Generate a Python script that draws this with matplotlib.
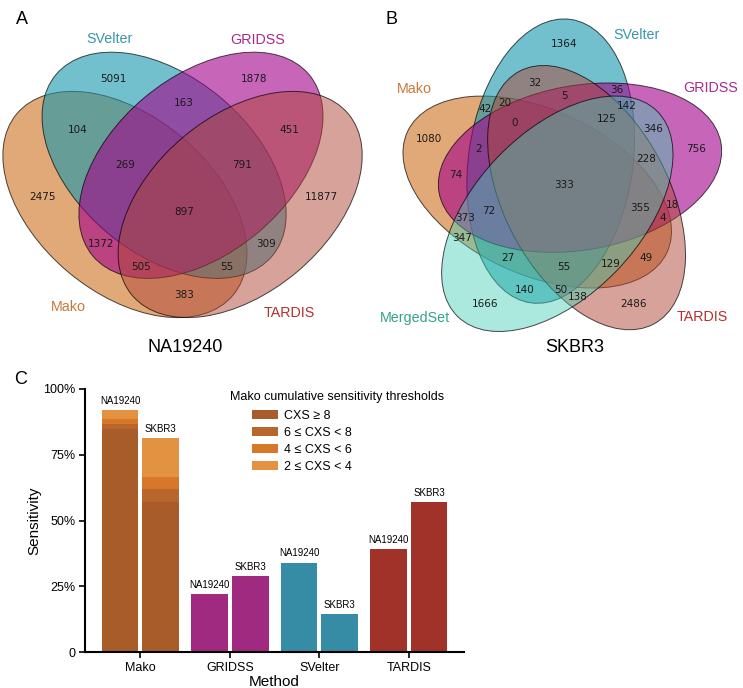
import numpy as np
import matplotlib.pyplot as plt
from matplotlib.patches import Ellipse, Patch

plt.rcParams['font.family'] = ['Liberation Sans', 'DejaVu Sans']

W, H = 743, 688

# ---------------- data ----------------
# panel A: NA19240, sets order Mako, SVelter, GRIDSS, TARDIS
sets_a = ['Mako', 'SVelter', 'GRIDSS', 'TARDIS']
regions_a = ['1000', '0100', '0010', '0001', '1100', '1010', '1001', '0110',
             '0101', '0011', '1110', '1101', '1011', '0111', '1111']
counts_a = [2475, 5091, 1878, 11877, 104, 1372, 383, 163,
            309, 451, 269, 55, 505, 791, 897]

# panel B: SKBR3, sets order Mako, SVelter, GRIDSS, TARDIS, MergedSet
sets_b = ['Mako', 'SVelter', 'GRIDSS', 'TARDIS', 'MergedSet']
regions_b = ['10000', '01000', '00100', '00010', '00001',
             '11000', '10100', '10010', '10001', '01100', '01010', '01001', '00110', '00101', '00011',
             '11100', '11010', '11001', '10110', '10101', '10011', '01110', '01101', '01011', '00111',
             '11110', '11101', '11011', '10111', '01111', '11111']
counts_b = [1080, 1364, 756, 2486, 1666,
            42, 74, 49, 347, 36, 32, 140, 18, 346, 138,
            2, 20, 27, 4, 373, 129, 5, 142, 50, 228,
            0, 72, 55, 355, 125, 333]

# panel C: sensitivity
methods = ['Mako', 'GRIDSS', 'SVelter', 'TARDIS']
samples = ['NA19240', 'SKBR3']
na19240_sens = [0.920, 0.222, 0.341, 0.391]
skbr3_sens = [0.813, 0.288, 0.145, 0.572]
thresholds = ['CXS \u2265 8', '6 \u2264 CXS < 8', '4 \u2264 CXS < 6', '2 \u2264 CXS < 4']
mako_na19240_cum = [0.847, 0.866, 0.885, 0.920]
mako_skbr3_cum = [0.572, 0.619, 0.667, 0.813]

# ---------------- styles / layout ----------------
set_fill = {'Mako': (205, 113, 30, 0.6), 'SVelter': (20, 150, 172, 0.6),
            'GRIDSS': (163, 0, 138, 0.6), 'TARDIS': (175, 70, 55, 0.5),
            'MergedSet': (70, 205, 180, 0.45)}
set_text = {'Mako': '#c9783c', 'SVelter': '#3896ab', 'GRIDSS': '#a82a8c',
            'TARDIS': '#b3302c', 'MergedSet': '#33a28c'}
method_colors = ['#a85c2a', '#a02a80', '#368ca5', '#a0322a']
threshold_colors = ['#a85c2a', '#b9662d', '#d67828', '#e29240']

# ellipse geometry (x, y, w, h, angle) and label spots, pyvenn style
ell4 = [(0.350, 0.400, 0.72, 0.45, 140.0), (0.450, 0.500, 0.72, 0.45, 140.0),
        (0.544, 0.500, 0.72, 0.45, 40.0), (0.644, 0.400, 0.72, 0.45, 40.0)]
pos4 = {'0001': (0.85, 0.42), '0010': (0.68, 0.72), '0011': (0.77, 0.59), '0100': (0.32, 0.72),
        '0101': (0.71, 0.30), '0110': (0.50, 0.66), '0111': (0.65, 0.50), '1000': (0.14, 0.42),
        '1001': (0.50, 0.17), '1010': (0.29, 0.30), '1011': (0.39, 0.24), '1100': (0.23, 0.59),
        '1101': (0.61, 0.24), '1110': (0.35, 0.50), '1111': (0.50, 0.38)}
ell5 = [(0.428, 0.449, 0.87, 0.50, 155.0), (0.469, 0.543, 0.87, 0.50, 82.0),
        (0.558, 0.523, 0.87, 0.50, 10.0), (0.578, 0.432, 0.87, 0.50, 118.0),
        (0.489, 0.383, 0.87, 0.50, 46.0)]
pos5 = {'00001': (0.27, 0.11), '00010': (0.72, 0.11), '00011': (0.55, 0.13), '00100': (0.91, 0.58),
        '00101': (0.78, 0.64), '00110': (0.84, 0.41), '00111': (0.76, 0.55), '01000': (0.51, 0.90),
        '01001': (0.39, 0.15), '01010': (0.42, 0.78), '01011': (0.50, 0.15), '01100': (0.67, 0.76),
        '01101': (0.70, 0.71), '01110': (0.51, 0.74), '01111': (0.64, 0.67), '10000': (0.10, 0.61),
        '10001': (0.20, 0.31), '10010': (0.76, 0.25), '10011': (0.65, 0.23), '10100': (0.18, 0.50),
        '10101': (0.21, 0.37), '10110': (0.81, 0.37), '10111': (0.74, 0.40), '11000': (0.27, 0.70),
        '11001': (0.34, 0.25), '11010': (0.33, 0.72), '11011': (0.51, 0.22), '11100': (0.25, 0.58),
        '11101': (0.28, 0.39), '11110': (0.36, 0.66), '11111': (0.51, 0.47)}
# set name positions in pixels
names_a_px = {'SVelter': (110, 39), 'GRIDSS': (258, 40), 'Mako': (68, 307), 'TARDIS': (289, 313)}
names_b_px = {'SVelter': (637, 35), 'Mako': (414, 89), 'GRIDSS': (711, 88),
              'MergedSet': (415, 318), 'TARDIS': (702, 317)}


def fx(px):
    return px / W


def fy(py):
    return 1 - py / H


def rgba(c):
    return (c[0] / 255, c[1] / 255, c[2] / 255, c[3])


def draw_venn(ax, sets, ells, regions, counts, pos):
    for name, (x, y, w, h, a) in zip(sets, ells):
        ax.add_patch(Ellipse((x, y), w, h, angle=a, facecolor=rgba(set_fill[name]),
                             edgecolor=(0, 0, 0, 0.7), linewidth=0.7))
    for r, c in zip(regions, counts):
        ax.text(pos[r][0], pos[r][1], str(c), ha='center', va='center',
                fontsize=7.5, family='DejaVu Sans', color='#1a1a1a')
    ax.axis('off')


fig = plt.figure(figsize=(W / 100, H / 100), dpi=100)

# panel A
ax_a = fig.add_axes([0, fy(340), 370 / W, 340 / H])
ax_a.set_xlim(0.03135, 0.97523)
ax_a.set_ylim(0.0543, 0.92165)
draw_venn(ax_a, sets_a, ell4, regions_a, counts_a, pos4)

# panel B
ax_b = fig.add_axes([370 / W, fy(340), 373 / W, 340 / H])
ax_b.set_xlim(-0.0803, 1.05344)
ax_b.set_ylim(-0.00068, 1.03275)
draw_venn(ax_b, sets_b, ell5, regions_b, counts_b, pos5)

for names_px in (names_a_px, names_b_px):
    for name, (px, py) in names_px.items():
        fig.text(fx(px), fy(py), name, ha='center', va='center', fontsize=10.3, color=set_text[name])

fig.text(fx(185), fy(347), 'NA19240', ha='center', va='center', fontsize=13)
fig.text(fx(575), fy(347), 'SKBR3', ha='center', va='center', fontsize=13)
fig.text(fx(21.5), fy(20), 'A', ha='center', va='center', fontsize=13)
fig.text(fx(391.5), fy(19), 'B', ha='center', va='center', fontsize=13)
fig.text(fx(21), fy(380), 'C', ha='center', va='center', fontsize=13)

# panel C
ax_c = fig.add_axes([85 / W, fy(652.3), 379.3 / W, 263.3 / H])
x = np.arange(len(methods))
off, bw = 0.227, 0.41
ax_c.bar(x - off, na19240_sens, bw, color=method_colors)
ax_c.bar(x + off, skbr3_sens, bw, color=method_colors)
# Mako cumulative layers, drawn high to low
for i in range(len(thresholds) - 1, -1, -1):
    ax_c.bar(x[0] - off, mako_na19240_cum[i], bw, color=threshold_colors[i])
    ax_c.bar(x[0] + off, mako_skbr3_cum[i], bw, color=threshold_colors[i])

for xi, v in zip(x, na19240_sens):
    ax_c.annotate(samples[0], (xi - off, v), xytext=(0, 3), textcoords='offset points',
                  ha='center', va='bottom', fontsize=7)
for xi, v in zip(x, skbr3_sens):
    ax_c.annotate(samples[1], (xi + off, v), xytext=(0, 3), textcoords='offset points',
                  ha='center', va='bottom', fontsize=7)

ax_c.set_xlim(-0.62, 3.62)
ax_c.set_ylim(0, 1.0)
ax_c.set_xticks(x)
ax_c.set_xticklabels(methods)
ax_c.set_yticks([0, 0.25, 0.5, 0.75, 1.0])
ax_c.set_yticklabels(['0', '25%', '50%', '75%', '100%'])
ax_c.tick_params(labelsize=9, length=4, width=1.2, pad=3)
for s in ['top', 'right']:
    ax_c.spines[s].set_visible(False)
for s in ['left', 'bottom']:
    ax_c.spines[s].set_linewidth(1.5)
ax_c.set_ylabel('Sensitivity', fontsize=11)
ax_c.yaxis.set_label_coords(-0.114, 0.5)
ax_c.set_xlabel('Method', fontsize=11)
ax_c.xaxis.set_label_coords(0.5, -0.086)

handles = [Patch(facecolor=c) for c in threshold_colors]
fig.text(fx(230), fy(397), 'Mako cumulative sensitivity thresholds', ha='left', va='center', fontsize=9)
fig.legend(handles, thresholds, loc='upper left', bbox_to_anchor=(fx(252), fy(410)),
           frameon=False, fontsize=9, handlelength=2.1, handleheight=0.7,
           labelspacing=0.4, borderpad=0, borderaxespad=0, handletextpad=0.5)

plt.savefig('out.png', dpi=100)
